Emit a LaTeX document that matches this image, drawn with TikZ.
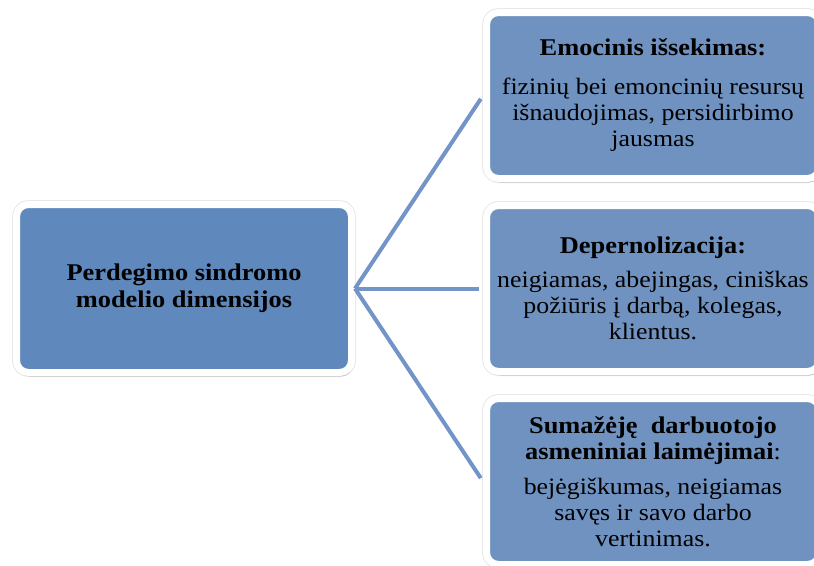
\documentclass[tikz,border=0pt]{standalone}
\usepackage{fontspec}
\setmainfont[FakeStretch=1.1]{Liberation Serif}
\usetikzlibrary{shadows}

\definecolor{mainblue}{RGB}{95,137,188}
\definecolor{sideblue}{RGB}{111,146,192}
\definecolor{linkblue}{RGB}{114,148,200}

\newcommand{\boxhead}[1]{{\bfseries\fontsize{24}{28}\selectfont #1}}

\begin{document}
\begin{tikzpicture}[x=1pt, y=-1pt,
  box/.style={draw=white, line width=7pt, rounded corners=12pt, align=center,
    inner sep=0pt, minimum width=333pt, minimum height=166pt, fill=sideblue,
    preaction={draw=black!9, line width=9pt},
    drop shadow={shadow xshift=1.5pt, shadow yshift=-4pt, opacity=0.35, fill=black!55}},
  mainbox/.style={box, fill=mainblue, minimum width=335pt, minimum height=168pt,
    font=\bfseries\fontsize{24}{27}\selectfont},
  body/.style={font=\fontsize{23.5}{26}\selectfont},
  link/.style={draw=linkblue, line width=4pt, shorten >=4pt}]

\useasboundingbox (0,0) rectangle (814,565);

\node[mainbox] (dim) at (184,288.5) {Perdegimo sindromo\\modelio dimensijos};

\node[box, body] (emo) at (653,95.5)
  {\boxhead{Emocinis išsekimas:}\\[13pt]fizinių bei emoncinių resursų\\išnaudojimas, persidirbimo\\jausmas};
\node[box, body] (dep) at (653,288.5)
  {\boxhead{Depernolizacija:}\\[8pt]neigiamas, abejingas, ciniškas\\požiūris į darbą, kolegas,\\klientus.};
\node[box, body] (sum) at (653,481.5)
  {\boxhead{Sumažėję\ \ darbuotojo}\\\boxhead{asmeniniai laimėjimai}:\\[9pt]bejėgiškumas, neigiamas\\savęs ir savo darbo\\vertinimas.};

\draw[link] (dim.east) -- (emo.west);
\draw[link] (dim.east) -- (dep.west);
\draw[link] (dim.east) -- (sum.west);

\end{tikzpicture}
\end{document}
